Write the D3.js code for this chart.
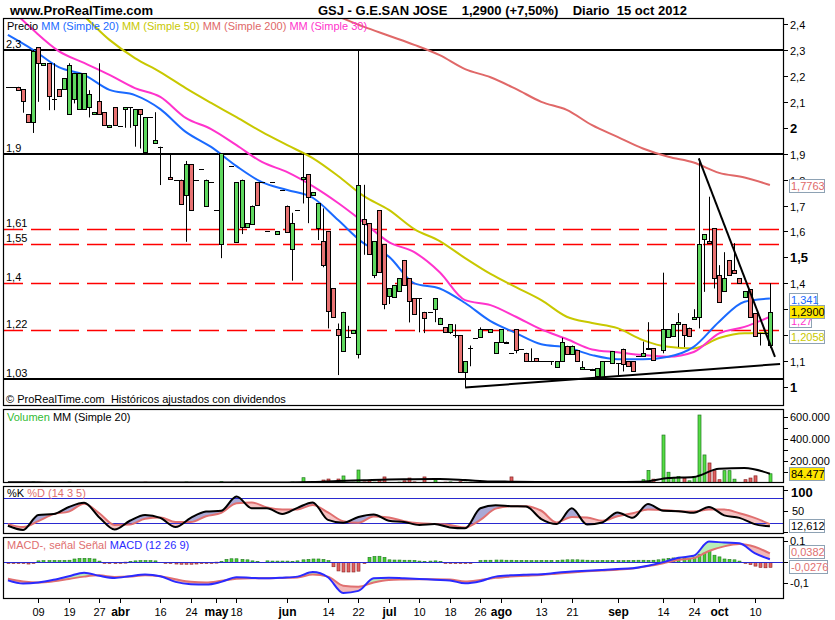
<!DOCTYPE html>
<html><head><meta charset="utf-8">
<script src="https://cdn.jsdelivr.net/npm/d3@7"></script>
<style>body{margin:0;background:#fff}svg{display:block;font-family:Arial,"Liberation Sans",sans-serif}</style>
</head><body><svg id="c" width="835" height="620"></svg>
<script>
// ---------------- DATA ----------------
const opens = [2.158,2.158,2.158,2.148,2.053,2.022,2.310,2.242,2.249,2.110,
2.148,2.148,2.052,2.110,2.072,2.072,2.077,2.053,2.103,2.060,
2.002,2.079,2.008,2.073,2.080,2.008,2.071,1.904,2.040,1.940,
1.927,null,1.810,1.800,1.800,1.739,1.859,1.800,1.840,1.700,
1.790,1.682,1.550,null,1.852,1.560,1.618,1.618,1.632,1.790,
1.790,1.600,1.790,1.589,1.759,1.700,1.531,1.682,1.801,1.820,
1.741,1.612,1.562,1.600,1.380,1.222,1.140,1.191,1.209,1.128,
1.650,1.632,1.430,1.682,1.550,1.348,1.348,1.367,1.490,1.419,
1.342,1.342,1.290,1.290,1.300,1.242,1.230,1.211,1.200,1.200,
1.059,1.149,1.190,1.190,1.222,1.211,1.130,1.172,1.175,1.130,
1.222,1.145,1.132,1.100,1.110,1.100,1.100,1.100,1.078,1.100,
1.159,1.130,1.143,1.070,1.070,1.070,1.040,1.040,1.100,1.091,
1.091,1.148,1.100,1.100,1.120,1.117,1.152,1.150,null,1.140,
1.190,1.197,1.242,1.242,1.229,1.261,1.269,1.570,1.563,1.612,
1.432,1.367,1.490,1.452,1.419,1.348,1.377,1.284,1.209,1.209,
1.162];
const highs = [2.158,2.158,2.158,2.148,2.053,2.300,2.310,2.249,2.249,2.249,
2.148,2.191,2.249,2.210,2.210,2.210,2.145,2.061,2.249,2.060,
2.011,2.079,2.008,2.080,2.080,2.071,2.071,2.040,2.040,2.060,
1.927,null,1.900,1.800,1.800,1.872,1.859,1.800,1.840,1.800,
1.790,1.682,1.901,null,1.852,1.790,1.800,1.632,1.700,1.790,
1.790,1.600,1.790,1.600,1.759,1.700,1.672,1.682,1.900,1.820,
1.751,1.708,1.689,1.600,1.380,1.245,1.290,1.236,1.220,2.300,
1.780,1.632,1.562,1.682,1.550,1.380,1.393,1.419,1.490,1.419,
1.342,1.342,1.290,1.290,1.342,1.267,1.230,1.242,1.242,1.200,
1.100,1.160,1.190,1.230,1.222,1.222,1.172,1.222,1.175,1.130,
1.222,1.145,1.132,1.149,1.110,1.100,1.100,1.100,1.100,1.190,
1.159,1.160,1.143,1.100,1.070,1.070,1.072,1.100,1.100,1.139,
1.091,1.148,1.100,1.100,1.120,1.175,1.250,1.150,null,1.441,
1.222,1.242,1.285,1.242,1.229,1.300,1.882,1.590,1.734,1.612,
1.470,1.520,1.490,1.555,1.419,1.370,1.377,1.284,1.209,1.209,
1.400];
const lows = [2.158,2.158,2.148,2.058,2.021,1.980,2.100,2.242,2.068,2.068,
2.122,2.148,2.052,2.094,2.072,2.072,2.040,2.053,2.053,2.011,
2.002,2.008,2.008,2.000,2.000,1.927,1.920,1.904,2.040,1.940,
1.779,null,1.801,1.800,1.708,1.560,1.680,1.800,1.840,1.700,
1.790,1.682,1.497,null,1.852,1.560,1.590,1.618,1.632,1.700,
1.790,1.600,1.790,1.589,1.759,1.600,1.410,1.682,1.708,1.632,
1.741,1.567,1.462,1.226,1.269,1.046,1.140,1.191,1.209,1.110,
1.510,1.514,1.420,1.442,1.300,1.320,1.348,1.367,1.393,1.249,
1.280,1.211,1.208,1.290,1.250,1.242,1.211,1.205,1.190,1.059,
0.998,1.080,1.190,1.190,1.222,1.211,1.130,1.172,1.170,1.130,
1.130,1.145,1.100,1.100,1.100,1.100,1.100,1.085,1.078,1.100,
1.130,1.130,1.100,1.070,1.070,1.062,1.040,1.040,1.100,1.091,
1.046,1.060,1.080,1.060,1.120,1.117,1.148,1.105,null,1.130,
1.190,1.197,1.154,1.154,1.200,1.261,1.226,1.367,1.554,1.380,
1.329,1.367,1.432,1.442,1.400,1.348,1.269,1.194,1.160,1.209,
1.150];
const closes = [2.158,2.158,2.148,2.100,2.021,2.297,2.249,2.249,2.122,2.110,
2.122,2.191,2.242,2.210,2.210,2.210,2.129,2.061,2.053,2.011,
2.011,2.008,2.008,2.080,2.080,2.071,2.050,2.040,2.040,1.953,
1.927,null,1.801,1.800,1.708,1.859,1.680,1.800,1.840,1.800,
1.790,1.682,1.901,null,1.852,1.790,1.800,1.632,1.700,1.700,
1.790,1.600,1.790,1.600,1.759,1.600,1.632,1.682,1.810,1.732,
1.751,1.708,1.468,1.290,1.269,1.198,1.290,1.191,1.220,1.780,
1.629,1.514,1.562,1.442,1.320,1.380,1.393,1.419,1.393,1.329,
1.280,1.342,1.267,1.290,1.342,1.267,1.211,1.242,1.200,1.059,
1.100,1.149,1.190,1.222,1.222,1.222,1.172,1.222,1.170,1.130,
1.140,1.145,1.100,1.100,1.100,1.100,1.100,1.100,1.100,1.172,
1.130,1.160,1.100,1.076,1.070,1.065,1.072,1.100,1.100,1.139,
1.091,1.091,1.080,1.060,1.120,1.130,1.148,1.105,null,1.222,
1.222,1.242,1.250,1.200,1.200,1.269,1.550,1.590,1.554,1.419,
1.329,1.419,1.432,1.442,1.400,1.370,1.269,1.194,1.209,1.209,
1.290];
const volumes = [3000,2000,5000,6000,4000,9000,8000,2000,6000,3000,
4000,5000,9000,6000,5000,4000,6000,2000,5000,3000,
2000,4000,1000,3000,2000,6000,5000,8000,1000,4000,
3000,0,3000,2000,5000,9000,7000,1000,2000,4000,
2000,1000,12000,0,2000,8000,6000,3000,4000,5000,
2000,2000,1000,3000,2000,6000,9000,2000,48000,8000,
3000,12000,27000,36000,12000,36000,64000,5000,8000,118000,
10000,20000,8000,22000,55000,6000,5000,8000,20000,45000,
10000,6000,55000,3000,28000,5000,8000,10000,3000,12000,
8000,8000,3000,5000,2000,3000,4000,6000,5000,55000,
9000,2000,4000,3000,5000,1000,2000,3000,4000,10000,
6000,10000,9000,3000,2000,4000,6000,7000,2000,8000,
3000,6000,4000,5000,3000,30000,115000,35000,0,436000,
98000,50000,60000,45000,20000,60000,618000,255000,182000,112000,
30000,112000,112000,35000,5000,30000,45000,65000,5000,2000,
84000];
// moving averages read every 5 sessions
const maDays = [0,5,10,15,20,25,30,35,40,45,50,55,60,65,70,75,80,85,90,95,100,105,110,115,120,125,130,135,140,145,150];
const ma20 = [2.358,2.300,2.234,2.204,2.146,2.126,2.072,1.984,1.926,1.852,1.790,1.760,1.730,1.644,1.555,1.503,1.400,1.380,1.324,1.254,1.208,1.165,1.153,1.123,1.107,1.107,1.117,1.155,1.252,1.329,1.341];
const ma30 = [2.47,2.377,2.296,2.250,2.204,2.153,2.119,2.038,1.995,1.933,1.868,1.829,1.775,1.710,1.636,1.559,1.520,1.443,1.335,1.316,1.271,1.222,1.185,1.145,1.134,1.123,1.117,1.135,1.207,1.232,1.271];
const ma50 = [2.70,2.60,2.51,2.43,2.339,2.269,2.215,2.153,2.096,2.041,1.984,1.933,1.883,1.814,1.737,1.683,1.609,1.563,1.497,1.436,1.385,1.335,1.271,1.247,1.227,1.181,1.155,1.149,1.189,1.207,1.208];
const ma200 = [null,null,null,null,null,null,null,null,null,null,null,null,2.47,2.43,2.39,2.355,2.32,2.28,2.226,2.195,2.15,2.10,2.069,2.01,1.965,1.92,1.888,1.866,1.826,1.808,1.779];
const volMA = [7000,6000,5000,5000,5000,5000,5000,5000,4000,4000,4000,5000,9000,18000,25000,32000,34000,36000,27000,14000,12000,10000,10000,9000,9000,11000,45000,55000,130000,136000,84477];
// oscillators read every 3 sessions
const oscDays = [0,3,6,9,12,15,18,21,24,27,30,33,36,39,42,45,48,51,54,57,60,63,66,69,72,75,78,81,84,87,90,93,96,99,102,105,108,111,114,117,120,123,126,129,132,135,138,141,144,147,150];
const stochK = [14,4,40,42,59,69,34,5,26,40,33,11,33,48,50,84,56,56,42,57,70,28,21,35,41,26,23,16,18,10,8,56,63,61,60,30,18,56,17,22,46,33,66,50,49,45,59,39,33,18,12.6];
const stochD = [18,11,25,42,48,67,44,16,17,31,34,23,23,37,45,68,70,58,53,53,64,46,25,21,36,34,25,20,18,16,10,28,55,61,61,50,22,35,34,26,37,44,53,52,49,48,53,53,44,33,18];
const macdLine = [-0.09,-0.105,-0.10,-0.087,-0.07,-0.053,-0.068,-0.078,-0.07,-0.062,-0.07,-0.097,-0.108,-0.11,-0.097,-0.075,-0.078,-0.08,-0.077,-0.072,-0.05,-0.075,-0.15,-0.14,-0.08,-0.077,-0.08,-0.083,-0.087,-0.09,-0.104,-0.094,-0.072,-0.066,-0.063,-0.061,-0.054,-0.048,-0.044,-0.04,-0.036,-0.032,-0.02,-0.003,0.018,0.027,0.095,0.09,0.087,0.04,0.0106];
const signalLine = [-0.082,-0.095,-0.10,-0.094,-0.083,-0.072,-0.066,-0.074,-0.072,-0.066,-0.07,-0.085,-0.097,-0.10,-0.092,-0.082,-0.08,-0.08,-0.078,-0.076,-0.062,-0.072,-0.115,-0.12,-0.10,-0.088,-0.086,-0.085,-0.085,-0.086,-0.095,-0.088,-0.078,-0.072,-0.068,-0.064,-0.058,-0.052,-0.047,-0.043,-0.039,-0.033,-0.022,-0.008,0.008,0.016,0.05,0.072,0.083,0.07,0.0382];
const macdHist = [-0.005,-0.006,-0.008,-0.008,-0.012,-0.004,0.003,0.004,0.004,0.005,
0.004,0.005,0.006,0.012,0.014,0.015,0.014,0.012,0.002,-0.004,
-0.005,-0.005,-0.004,-0.003,0.001,0.003,0.004,0.004,0.004,0.003,
0.000,-0.004,-0.008,-0.012,-0.013,-0.013,-0.013,-0.012,-0.010,-0.008,
-0.004,-0.003,0.001,0.010,0.013,0.013,0.010,0.008,0.003,0.001,
0.000,0.003,0.002,0.002,0.002,0.002,0.001,0.003,0.008,0.010,
0.012,0.012,0.010,0.004,-0.025,-0.045,-0.050,-0.050,-0.050,-0.046,
-0.010,0.020,0.024,0.025,0.020,0.008,0.007,0.007,0.006,0.006,
0.005,0.002,0.001,0.002,0.003,0.001,-0.004,-0.006,-0.008,-0.010,
-0.009,-0.006,0.000,0.004,0.006,0.006,0.007,0.007,0.006,0.006,
0.005,0.005,0.005,0.004,0.004,0.005,0.005,0.005,0.005,0.007,
0.008,0.008,0.008,0.007,0.006,0.004,0.004,0.005,0.004,0.005,
0.004,0.004,0.005,0.005,0.006,0.006,0.005,0.006,0.008,0.012,
0.015,0.017,0.017,0.016,0.014,0.018,0.032,0.040,0.047,0.030,
0.022,0.012,0.010,0.008,0.002,-0.004,-0.015,-0.022,-0.028,-0.030,
-0.0276];
const tickDays = [6,12,18,22,30,36,41,45,55,63,69,75,81,87,93,97,105,111,120,129,135,140,147];
const tickLabels = ["09","19","27","abr","16","24","may","18","jun","14","22","jul","10","18","26","ago","13","21","sep","14","24","oct","10"];
const monthLabels = ["abr","may","jun","jul","ago","sep","oct"];
const priceTicks = [1.0,1.1,1.2,1.3,1.4,1.5,1.6,1.7,1.8,1.9,2.0,2.1,2.2,2.3,2.4];
const boldPrices = [1.0,1.5,2.0];
const solidLevels = [2.3,1.9,1.03];
const dashedLevels = [1.61,1.55,1.4,1.22];
const volTicks = [200000,400000,600000];
const stochTicks = [50,100];
const stochBands = [20,80];
const macdTicks = [-0.1,0.1];
// trend lines (session, price)
const trendDown = [[136,1.882],[151,1.116]];
const trendUp = [[90,0.998],[152,1.089]];

// ---------------- LAYOUT ----------------
const L=3, R=784;
const P={main:[18,406],vol:[409,483],sto:[486,534],macd:[537,599]};
const N = opens.length;
const svg=d3.select('#c');
const x=d3.scaleLinear().domain([0,150]).range([7.9,769.9]);
const yP=d3.scaleLinear().domain([1.0,2.3]).range([387,50]);
const yV=d3.scaleLinear().domain([0,600000]).range([483,417]);
const yS=d3.scaleLinear().domain([0,100]).range([531.6,489.9]);
const yM=d3.scaleLinear().domain([-0.1,0.1]).range([582.5,540.5]);
const comma = v => String(v).replace('.',',');
const GREEN='#5fd85f', RED='#e87272';

const defs=svg.append('defs');
Object.entries(P).forEach(([k,[t,b]])=>{
  defs.append('clipPath').attr('id','clip-'+k).append('rect').attr('x',L).attr('y',t).attr('width',R-L).attr('height',b-t);
});

// header
svg.append('text').attr('x',10).attr('y',15).attr('font-size',13).attr('font-weight','bold').text('www.ProRealTime.com');
svg.append('text').attr('x',318).attr('y',15).attr('font-size',13).attr('font-weight','bold').attr('xml:space','preserve')
  .text('GSJ - G.E.SAN JOSE    1,2900 (+7,50%)    Diario  15 oct 2012');

// ---------------- MAIN PANEL ----------------
const gm=svg.append('g').attr('clip-path','url(#clip-main)');
// level lines
dashedLevels.forEach(v=>{
  gm.append('line').attr('x1',L).attr('x2',R).attr('y1',Math.round(yP(v))+0.5).attr('y2',Math.round(yP(v))+0.5)
    .attr('stroke','#ff0000').attr('stroke-width',1.3).attr('stroke-dasharray','20,8');
});
solidLevels.forEach(v=>{
  gm.append('line').attr('x1',L).attr('x2',R).attr('y1',Math.round(yP(v))).attr('y2',Math.round(yP(v)))
    .attr('stroke','#000').attr('stroke-width',2);
});
// moving averages
const maLine = arr => d3.line().defined((d,i)=>arr[i]!=null).x((d,i)=>x(maDays[i])).y((d,i)=>yP(arr[i])).curve(d3.curveMonotoneX);
[[ma200,'#e06868'],[ma50,'#c8c800'],[ma30,'#ff33cc'],[ma20,'#1a6aff']].forEach(([arr,c])=>{
  gm.append('path').attr('d',maLine(arr)(arr)).attr('fill','none').attr('stroke',c).attr('stroke-width',2);
});
// candles
const gc=gm.append('g');
d3.range(N).filter(i=>opens[i]!=null).forEach(i=>{
  const r=Math.round(x(i));
  gc.append('line').attr('x1',r+0.5).attr('x2',r+0.5).attr('y1',yP(highs[i])).attr('y2',yP(lows[i])).attr('stroke','#000');
  if(Math.abs(opens[i]-closes[i])<0.0005){
    const yy=Math.round(yP(closes[i]))+0.5;
    gc.append('line').attr('x1',r-2).attr('x2',r+3).attr('y1',yy).attr('y2',yy).attr('stroke','#000');
  } else {
    const t=yP(Math.max(opens[i],closes[i])), b=yP(Math.min(opens[i],closes[i]));
    gc.append('rect').attr('x',r-1.5).attr('y',Math.round(t)+0.5).attr('width',4).attr('height',Math.max(1,Math.round(b-t)))
      .attr('fill',closes[i]>opens[i]?GREEN:RED).attr('stroke','#000').attr('stroke-width',1);
  }
});
// trend lines
[trendDown,trendUp].forEach(tl=>{
  gm.append('line').attr('x1',x(tl[0][0])).attr('y1',yP(tl[0][1])).attr('x2',x(tl[1][0])).attr('y2',yP(tl[1][1]))
    .attr('stroke','#000').attr('stroke-width',2);
});
// left level labels
solidLevels.concat(dashedLevels).forEach(v=>{
  svg.append('text').attr('x',6).attr('y',yP(v)-2).attr('font-size',11).text(comma(v));
});
// legend
const leg=svg.append('text').attr('x',7).attr('y',30).attr('font-size',11);
[['Precio ','#000'],['MM (Simple 20) ','#1a6aff'],['MM (Simple 50) ','#c8c800'],['MM (Simple 200) ','#e06868'],['MM (Simple 30)','#ff33cc']]
  .forEach(([t,c])=>leg.append('tspan').attr('fill',c).attr('xml:space','preserve').text(t));
svg.append('text').attr('x',6).attr('y',403).attr('font-size',11).attr('xml:space','preserve').text('\u00A9 ProRealTime.com  Hist\u00F3ricos ajustados con dividendos');
// right axis
priceTicks.forEach(v=>{
  const yy=Math.round(yP(v))+0.5;
  svg.append('line').attr('x1',R).attr('x2',R+4).attr('y1',yy).attr('y2',yy).attr('stroke','#000');
  const b=boldPrices.includes(v);
  svg.append('text').attr('x',790).attr('y',yy+4).attr('font-size',b?13:11).attr('font-weight',b?'bold':'normal').text(comma(+v.toFixed(1)));
});

// ---------------- VOLUME ----------------
const gv=svg.append('g').attr('clip-path','url(#clip-vol)');
d3.range(N).filter(i=>volumes[i]>0).forEach(i=>{
  const r=Math.round(x(i));
  const prev = i>0 && closes[i-1]!=null ? closes[i-1] : (closes[i]!=null?closes[i]:0);
  const up = closes[i]!=null ? closes[i]>=prev : true;
  const t=yV(volumes[i]);
  gv.append('rect').attr('x',r-1).attr('y',t).attr('width',3).attr('height',Math.max(0.8,483-t))
    .attr('fill',up?'#55dd44':'#e06060').attr('stroke',up?'#227722':'#882222').attr('stroke-width',0.7);
});
gv.append('path').attr('d',d3.line().x((d,i)=>x(maDays[i])).y(d=>yV(d)).curve(d3.curveMonotoneX)(volMA))
  .attr('fill','none').attr('stroke','#000').attr('stroke-width',2);
const lv=svg.append('text').attr('x',7).attr('y',421).attr('font-size',11);
lv.append('tspan').attr('fill','#33bb33').text('Volumen ');
lv.append('tspan').attr('fill','#000').text('MM (Simple 20)');
d3.range(100000,700000,100000).forEach(v=>{
  svg.append('line').attr('x1',R).attr('x2',R+4).attr('y1',Math.round(yV(v))+0.5).attr('y2',Math.round(yV(v))+0.5).attr('stroke','#000');
});
volTicks.forEach(v=>{
  svg.append('text').attr('x',790).attr('y',yV(v)+4).attr('font-size',11).text(d3.format(',')(v).replace(/,/g,'.'));
});

// ---------------- STOCHASTIC ----------------
const gs=svg.append('g').attr('clip-path','url(#clip-sto)');
const cv=d3.curveMonotoneX;
const sx=(d,i)=>x(oscDays[i]);
defs.append('clipPath').attr('id','sAbove').append('path')
  .attr('d',d3.area().x(sx).y0(P.sto[0]).y1((d,i)=>yS(stochD[i])).curve(cv)(stochD));
defs.append('clipPath').attr('id','sBelow').append('path')
  .attr('d',d3.area().x(sx).y0(P.sto[1]).y1((d,i)=>yS(stochD[i])).curve(cv)(stochD));
const kdArea=d3.area().x(sx).y0((d,i)=>yS(stochK[i])).y1((d,i)=>yS(stochD[i])).curve(cv)(stochK);
gs.append('path').attr('d',kdArea).attr('fill','#a9a9d6').attr('clip-path','url(#sAbove)');
gs.append('path').attr('d',kdArea).attr('fill','#f6c3c3').attr('clip-path','url(#sBelow)');
stochBands.forEach(v=>{
  gs.append('line').attr('x1',L).attr('x2',R).attr('y1',Math.round(yS(v))+0.5).attr('y2',Math.round(yS(v))+0.5).attr('stroke','#2a2ad0');
});
gs.append('path').attr('d',d3.line().x(sx).y(d=>yS(d)).curve(cv)(stochD)).attr('fill','none').attr('stroke','#e07070').attr('stroke-width',2);
gs.append('path').attr('d',d3.line().x(sx).y(d=>yS(d)).curve(cv)(stochK)).attr('fill','none').attr('stroke','#000').attr('stroke-width',2);
const ls=svg.append('text').attr('x',7).attr('y',497).attr('font-size',11);
ls.append('tspan').attr('fill','#000').text('%K ');
ls.append('tspan').attr('fill','#e07070').text('%D (14 3 5)');
[0,50,100].forEach(v=>svg.append('line').attr('x1',R).attr('x2',R+4).attr('y1',Math.round(yS(v))+0.5).attr('y2',Math.round(yS(v))+0.5).attr('stroke','#000'));
stochTicks.forEach(v=>{
  svg.append('text').attr('x',v===100?791:792).attr('y',yS(v)+(v===100?7:4)).attr('font-size',v===100?13:11).attr('font-weight',v===100?'bold':'normal').text(v);
});

// ---------------- MACD ----------------
const gd=svg.append('g').attr('clip-path','url(#clip-macd)');
const zy=Math.round(yM(0))+0.5;
defs.append('clipPath').attr('id','mAbove').append('path')
  .attr('d',d3.area().x(sx).y0(P.macd[0]).y1((d,i)=>yM(signalLine[i])).curve(cv)(signalLine));
defs.append('clipPath').attr('id','mBelow').append('path')
  .attr('d',d3.area().x(sx).y0(P.macd[1]).y1((d,i)=>yM(signalLine[i])).curve(cv)(signalLine));
const msArea=d3.area().x(sx).y0((d,i)=>yM(macdLine[i])).y1((d,i)=>yM(signalLine[i])).curve(cv)(macdLine);
gd.append('path').attr('d',msArea).attr('fill','#b8eeb8').attr('clip-path','url(#mAbove)');
gd.append('path').attr('d',msArea).attr('fill','#f2b8b8').attr('clip-path','url(#mBelow)');
macdHist.forEach((h,i)=>{
  const r=Math.round(x(i)); const t=yM(h);
  if(Math.abs(h)<0.0005) return;
  gd.append('rect').attr('x',r-1).attr('y',Math.min(t,zy)).attr('width',3).attr('height',Math.max(1,Math.abs(t-zy)))
    .attr('fill',h>0?'#44cc33':'#e06060').attr('stroke',h>0?'#227722':'#882222').attr('stroke-width',0.6);
});
gd.append('line').attr('x1',L).attr('x2',R).attr('y1',zy).attr('y2',zy).attr('stroke','#2a2ad0');
gd.append('path').attr('d',d3.line().x(sx).y(d=>yM(d)).curve(cv)(signalLine)).attr('fill','none').attr('stroke','#e07070').attr('stroke-width',2);
gd.append('path').attr('d',d3.line().x(sx).y(d=>yM(d)).curve(cv)(macdLine)).attr('fill','none').attr('stroke','#2a2aff').attr('stroke-width',2);
const lm=svg.append('text').attr('x',7).attr('y',549).attr('font-size',11);
lm.append('tspan').attr('fill','#e07070').text('MACD-, se\u00F1al Se\u00F1al ');
lm.append('tspan').attr('fill','#2a2aff').text('MACD (12 26 9)');
[-0.1,0,0.1].forEach(v=>svg.append('line').attr('x1',R).attr('x2',R+4).attr('y1',Math.round(yM(v))+0.5).attr('y2',Math.round(yM(v))+0.5).attr('stroke','#000'));
macdTicks.forEach(v=>svg.append('text').attr('x',790).attr('y',yM(v)+4).attr('font-size',11).text(comma(v)));

// ---------------- PANEL FRAMES ----------------
Object.values(P).forEach(([t,b])=>{
  svg.append('rect').attr('x',L+0.5).attr('y',t+0.5).attr('width',R-L-1).attr('height',b-t-1)
    .attr('fill','none').attr('stroke','#000').attr('stroke-width',1.2);
});

// ---------------- X AXIS ----------------
tickDays.forEach((d,i)=>{
  const r=Math.round(x(d))+0.5;
  svg.append('line').attr('x1',r).attr('x2',r).attr('y1',P.macd[1]).attr('y2',P.macd[1]+4).attr('stroke','#000');
  const m=monthLabels.includes(tickLabels[i]);
  svg.append('text').attr('x',r).attr('y',616).attr('text-anchor','middle').attr('font-size',m?12:11)
    .attr('font-weight',m?'bold':'normal').text(tickLabels[i]);
});

// ---------------- VALUE BOXES ----------------
function box(yc,txt,color,bg,w){
  const g=svg.append('g');
  g.append('rect').attr('x',789.5).attr('y',Math.round(yc-6.5)+0.5).attr('width',w).attr('height',13)
    .attr('fill',bg).attr('stroke','#8ea2b4');
  g.append('text').attr('x',791).attr('y',Math.round(yc-6.5)+11).attr('font-size',11).attr('fill',color).text(txt);
}
box(yP(ma200[ma200.length-1]),'1,7763','#e06868','#fff',35);
box(yP(ma20[ma20.length-1])+1,'1,341','#1a6aff','#fff',28);
box(yP(ma30[ma30.length-1])+4,'1,27','#ff33cc','#fff',22);
box(yP(ma50[ma50.length-1])+3,'1,2058','#c8c800','#fff',35);
box(yP(closes[N-1]),'1,2900','#000','#ffe600',35);
box(473,'84.477','#000','#ffe600',35);
box(yS(stochK[stochK.length-1])-1,'12,612','#000','#fff',35);
box(yM(signalLine[signalLine.length-1])-1.5,'0,0382','#e07070','#fff',35);
box(566.5,'-0,0276','#e07070','#fff',38);
</script></body></html>
